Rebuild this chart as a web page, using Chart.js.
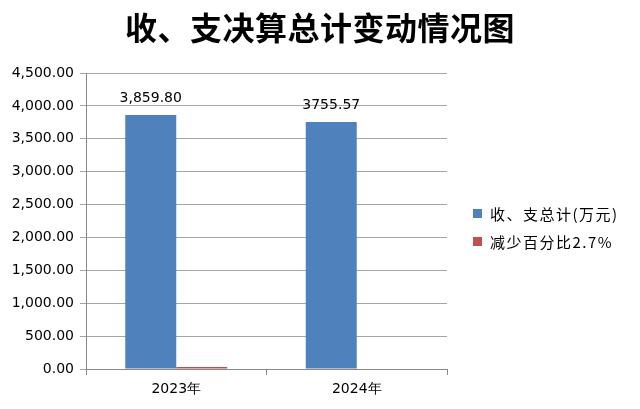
<!DOCTYPE html>
<html><head><meta charset="utf-8">
<script src="https://cdn.jsdelivr.net/npm/chart.js@4"></script>
<style>html,body{margin:0;padding:0;background:#fff}#wrap{width:640px;height:409px}</style>
</head><body><div id="wrap"><canvas id="c" width="640" height="409"></canvas></div>
<script>
const title = '收、支决算总计变动情况图';
const categories = ['2023年', '2024年'];
const seriesNames = ['收、支总计(万元)', '减少百分比2.7%'];
const totals = [3859.80, 3755.57];
const decrease = [2.7, null];
const totalLabels = ['3,859.80', '3755.57'];
const yTicks = [0, 500, 1000, 1500, 2000, 2500, 3000, 3500, 4000, 4500];

const fmt = v => v.toLocaleString('en-US', {minimumFractionDigits: 2, maximumFractionDigits: 2});
const TFONT = '"DejaVu Sans", Verdana, sans-serif';

const titlePlugin = {
  id: 'centerTitle',
  afterDraw(chart) {
    const ctx = chart.ctx;
    ctx.save();
    ctx.font = 'bold 32px "Noto Sans CJK SC", sans-serif';
    ctx.letterSpacing = '0.5px';
    ctx.fillStyle = '#000';
    ctx.textAlign = 'center';
    ctx.textBaseline = 'middle';
    ctx.fillText(title, chart.width / 2, 28);
    ctx.restore();
  }
};
const labelPlugin = {
  id: 'labels',
  afterDatasetsDraw(chart) {
    const ctx = chart.ctx;
    const meta = chart.getDatasetMeta(0);
    ctx.save();
    ctx.font = '14px ' + TFONT;
    ctx.fillStyle = '#000';
    ctx.textAlign = 'center';
    ctx.textBaseline = 'bottom';
    meta.data.forEach((bar, i) => {
      ctx.fillText(totalLabels[i], bar.x, bar.y - 10);
    });
    ctx.restore();
  }
};
const legendPlugin = {
  id: 'customLegend',
  afterDraw(chart) {
    const ctx = chart.ctx;
    ctx.save();
    ctx.font = '15px "Noto Sans CJK SC", sans-serif';
    ctx.letterSpacing = '1.5px';
    ctx.textBaseline = 'middle';
    ctx.textAlign = 'left';
    const x0 = chart.chartArea.right + 26;
    chart.data.datasets.forEach((ds, i) => {
      const y = 213 + i * 28;
      ctx.fillStyle = ds.backgroundColor;
      ctx.fillRect(x0, y - 4, 9, 9);
      ctx.fillStyle = '#000';
      ctx.fillText(ds.label, x0 + 17, y + 1);
    });
    ctx.restore();
  }
};

new Chart(document.getElementById('c'), {
  type: 'bar',
  data: {
    labels: categories,
    datasets: [
      {label: seriesNames[0], data: totals, backgroundColor: '#4F81BD'},
      {label: seriesNames[1], data: decrease, backgroundColor: '#C0504D', minBarLength: 2}
    ]
  },
  options: {
    responsive: false,
    animation: false,
    devicePixelRatio: 1,
    layout: {padding: {left: 0, right: 193, top: 73, bottom: 0}},
    datasets: {bar: {categoryPercentage: 0.565, barPercentage: 1}},
    plugins: {
      legend: {display: false},
      tooltip: {enabled: false},
      title: {display: false}
    },
    scales: {
      x: {
        grid: {display: true, drawOnChartArea: false, drawTicks: true, tickLength: 6, color: '#888', offset: true},
        border: {color: '#888'},
        ticks: {color: '#000', font: {family: TFONT, size: 14}, padding: 6},
        afterFit(s) { s.height = 40; }
      },
      y: {
        min: 0, max: 4500,
        afterBuildTicks(s) { s.ticks = yTicks.map(v => ({value: v})); },
        grid: {color: '#a6a6a6', tickLength: 6, lineWidth: 1},
        border: {color: '#888'},
        ticks: {color: '#000', font: {family: TFONT, size: 14}, padding: 6, callback: v => fmt(v)},
        afterFit(s) { s.width = 86; }
      }
    }
  },
  plugins: [labelPlugin, legendPlugin, titlePlugin]
});
</script></body></html>
